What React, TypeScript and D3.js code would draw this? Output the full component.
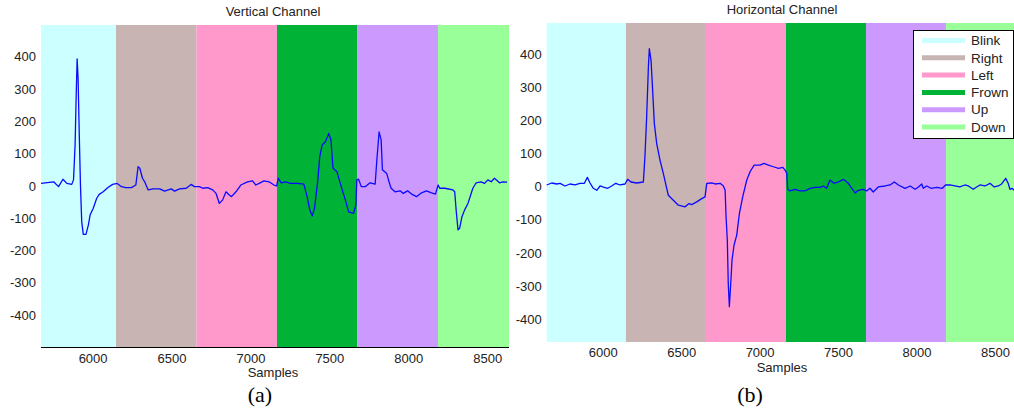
import React from "react";
import * as d3 from "d3";

// eye movement classes, shaded as vertical bands
const bandLabels = ["Blink", "Right", "Left", "Frown", "Up", "Down"];
const bandColors = ["#ccffff", "#c9b4b4", "#ff99cc", "#00b236", "#cc99ff", "#99ff99"];
const bandEdges = [6145, 6655, 7165, 7675, 8185];

const xTicks = [6000, 6500, 7000, 7500, 8000, 8500];
const yTicks = [-400, -300, -200, -100, 0, 100, 200, 300, 400];

// [sample, amplitude]
const verticalChannel: [number, number][] = [
  [5670, 8], [5750, 13], [5781, -2], [5809, 21], [5834, 8], [5865, 5], [5876, 19], [5886, 127],
  [5893, 282], [5899, 394], [5905, 334], [5913, 148], [5920, 3], [5928, -111], [5938, -150],
  [5955, -150], [5970, -121], [5981, -90], [6001, -69], [6023, -38], [6039, -26], [6064, -18],
  [6096, -4], [6124, 5], [6153, 8], [6180, -2], [6208, -5], [6243, -5], [6271, 3], [6285, 60],
  [6296, 55], [6313, 24], [6327, 13], [6348, -12], [6380, -9], [6422, -9], [6453, -16], [6495, -9],
  [6516, -16], [6548, -9], [6590, -7], [6621, 5], [6642, -2], [6674, -2], [6695, -7], [6726, -5],
  [6758, -12], [6779, -23], [6800, -54], [6821, -43], [6842, -18], [6863, -28], [6877, -33],
  [6905, -18], [6936, 3], [6978, 13], [7010, 16], [7031, 3], [7052, 8], [7083, 16], [7115, 13],
  [7146, 3], [7163, 0], [7173, 24], [7192, 10], [7220, 13], [7251, 8], [7293, 8], [7335, 6],
  [7356, -33], [7373, -74], [7388, -93], [7403, -69], [7424, 19], [7436, 91], [7451, 127],
  [7472, 137], [7493, 163], [7507, 143], [7520, 55], [7545, 44], [7566, 8], [7598, -43],
  [7619, -80], [7650, -85], [7665, -59], [7671, 19], [7682, 21], [7699, -2], [7724, -2],
  [7755, 10], [7787, 6], [7797, 75], [7812, 168], [7825, 143], [7833, 50], [7860, 39], [7875, 13],
  [7888, -7], [7913, -18], [7945, -15], [7965, -23], [7992, -15], [8018, -25], [8049, -33],
  [8081, -21], [8112, -15], [8144, -21], [8169, -25], [8186, 3], [8196, -7], [8228, -7],
  [8280, -12], [8291, -18], [8301, -80], [8312, -136], [8322, -131], [8337, -95], [8354, -74],
  [8375, -54], [8406, -7], [8427, 10], [8458, 13], [8480, 8], [8501, 19], [8522, 13], [8543, 24],
  [8575, 10], [8596, 13], [8623, 12],
];

const horizontalChannel: [number, number][] = [
  [5640, 5], [5672, 11], [5704, 8], [5725, 10], [5757, 2], [5788, 8], [5820, 5], [5852, 10],
  [5880, 10], [5899, 28], [5916, 11], [5937, -5], [5959, -11], [5980, 2], [6007, -2], [6029, -5],
  [6054, 2], [6080, 10], [6107, 5], [6139, 8], [6156, 22], [6177, 14], [6214, 11], [6256, 14],
  [6266, 90], [6277, 210], [6288, 360], [6294, 416], [6305, 380], [6313, 310], [6326, 190],
  [6341, 130], [6362, 80], [6383, 40], [6415, -26], [6447, -41], [6479, -56], [6504, -59],
  [6521, -61], [6547, -51], [6564, -54], [6596, -46], [6628, -36], [6649, -31], [6660, 10],
  [6692, 11], [6713, 8], [6745, 10], [6766, 2], [6777, -11], [6783, -91], [6791, -161],
  [6797, -291], [6804, -362], [6813, -291], [6821, -221], [6834, -176], [6851, -146], [6868, -81],
  [6889, -31], [6915, 20], [6936, 45], [6962, 65], [7000, 65], [7025, 70], [7053, 65], [7085, 60],
  [7117, 55], [7145, 58], [7159, 50], [7170, 40], [7176, -8], [7191, -13], [7222, -8], [7254, -13],
  [7286, -13], [7318, -5], [7350, -2], [7382, -2], [7403, 2], [7424, -5], [7445, 20], [7471, 10],
  [7498, 14], [7530, 22], [7562, 10], [7584, -5], [7605, -19], [7626, -11], [7658, -8], [7679, -13],
  [7700, -5], [7721, -16], [7753, -1], [7796, 2], [7828, 5], [7855, 14], [7881, 5], [7924, -5],
  [7956, 2], [7988, -8], [8009, -1], [8030, 8], [8040, -5], [8062, 2], [8089, -5], [8126, -2],
  [8161, -5], [8182, 5], [8210, 5], [8242, 2], [8273, -1], [8305, 5], [8327, 2], [8358, -8],
  [8380, -1], [8401, 5], [8433, 2], [8465, 10], [8492, -1], [8518, 2], [8539, 8], [8565, 25],
  [8581, 10], [8592, -8], [8607, -5], [8618, -11],
];

const FONT = "'Liberation Sans', Arial, sans-serif";
const TEXT = "#222";

type PanelProps = {
  title: string;
  caption: string;
  captionX: number;
  data: [number, number][];
  xDomain: [number, number];
  yDomain: [number, number];
  left: number;
  right: number;
  top: number;
  bottom: number;
  titleX: number;
  titleY: number;
  tickY: number;
  labelY: number;
  axisLine: boolean;
};

function Panel(p: PanelProps) {
  const x = d3.scaleLinear().domain(p.xDomain).range([p.left, p.right]);
  const y = d3.scaleLinear().domain(p.yDomain).range([p.bottom, p.top]);
  const line = d3.line<[number, number]>().x((d) => x(d[0])).y((d) => y(d[1]));
  const edges = [p.xDomain[0], ...bandEdges, p.xDomain[1]];

  return (
    <g>
      {bandColors.map((c, i) => (
        <rect key={i} x={x(edges[i])} y={p.top} width={x(edges[i + 1]) - x(edges[i])}
          height={p.bottom - p.top} fill={c} />
      ))}
      <path d={line(p.data) || ""} fill="none" stroke="#0a0aff" strokeWidth={1.3}
        strokeLinejoin="round" />
      {p.axisLine && (
        <line x1={p.left} x2={p.right} y1={p.bottom + 0.5} y2={p.bottom + 0.5} stroke="#000" />
      )}
      {yTicks.map((t) => (
        <text key={t} x={p.left - 5} y={y(t)} dy="0.35em" textAnchor="end" fontSize={13}
          fontFamily={FONT} fill={TEXT}>{t}</text>
      ))}
      {xTicks.map((t) => (
        <text key={t} x={x(t)} y={p.tickY} textAnchor="middle" fontSize={13}
          fontFamily={FONT} fill={TEXT}>{t}</text>
      ))}
      <text x={p.titleX} y={p.titleY} textAnchor="middle" fontSize={13} fontFamily={FONT}
        fill={TEXT}>{p.title}</text>
      <text x={p.titleX} y={p.labelY} textAnchor="middle" fontSize={13} fontFamily={FONT}
        fill={TEXT}>Samples</text>
      <text x={p.captionX} y={402} textAnchor="middle" fontSize={22}
        fontFamily="'Liberation Serif', 'Times New Roman', serif" fill="#000">{p.caption}</text>
    </g>
  );
}

function Legend({ x, y }: { x: number; y: number }) {
  const rowH = 17.3;
  return (
    <g>
      <rect x={x + 0.5} y={y + 0.5} width={100} height={108} fill="#fff" stroke="#000" />
      {bandLabels.map((lab, i) => {
        const cy = y + 10.5 + i * rowH;
        return (
          <g key={lab}>
            <line x1={x + 9} x2={x + 52} y1={cy} y2={cy} stroke={bandColors[i]} strokeWidth={5} />
            <text x={x + 58} y={cy} dy="0.35em" fontSize={13.5} fontFamily={FONT} fill={TEXT}>{lab}</text>
          </g>
        );
      })}
    </g>
  );
}

export default function App() {
  return (
    <>
      <style>{"body{margin:0}"}</style>
      <svg width={1014} height={415} style={{ display: "block", background: "#fff" }}>
        <Panel title="Vertical Channel" caption="(a)" captionX={260} data={verticalChannel}
          xDomain={[5670, 8635]} yDomain={[-499, 499]} left={41} right={509} top={25}
          bottom={347} titleX={273} titleY={16} tickY={362.5} labelY={377} axisLine={true} />
        <Panel title="Horizontal Channel" caption="(b)" captionX={750} data={horizontalChannel}
          xDomain={[5640, 8618]} yDomain={[-468.5, 493.5]} left={546.7} right={1014} top={23}
          bottom={342} titleX={782} titleY={14} tickY={356.5} labelY={371.5} axisLine={false} />
        <Legend x={913} y={30} />
      </svg>
    </>
  );
}
